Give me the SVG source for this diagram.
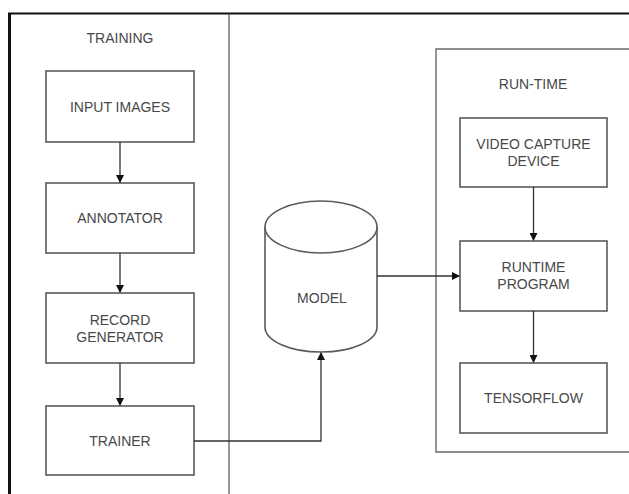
<svg xmlns="http://www.w3.org/2000/svg" width="629" height="494" viewBox="0 0 629 494">
<style>
.box{fill:#fff;stroke:#5a5a5a;stroke-width:1.6}
.lane{fill:none;stroke:#6a6a6a;stroke-width:1.4}
.t{font-family:"Liberation Sans",Arial,sans-serif;font-size:14px;fill:#484848;text-anchor:middle;dominant-baseline:central}
.c{fill:none;stroke:#333;stroke-width:1.3}
</style>
<defs>
<marker id="ah" markerWidth="8" markerHeight="8" refX="7" refY="4" orient="auto" markerUnits="userSpaceOnUse">
<path d="M0,0 L8,4 L0,8 Z" fill="#111"/>
</marker>
</defs>
<rect width="629" height="494" fill="#fff"/>
<g id="frame">
<line x1="8" y1="13.5" x2="629" y2="13.5" stroke="#111" stroke-width="2"/>
<line x1="9.5" y1="13" x2="9.5" y2="494" stroke="#111" stroke-width="3"/>
</g>
<g id="training">
<line x1="229" y1="14" x2="229" y2="494" class="lane"/>
<text class="t" x="120" y="38">TRAINING</text>
</g>
<g id="runtime">
<path d="M632,49 H436 V452 H632" class="lane"/>
<text class="t" x="533" y="84">RUN-TIME</text>
</g>
<g id="input-images">
<rect class="box" x="46" y="71" width="148" height="71"/>
<text class="t" x="120" y="106.5">INPUT IMAGES</text>
</g>
<g id="annotator">
<rect class="box" x="46" y="183" width="148" height="70"/>
<text class="t" x="120" y="218">ANNOTATOR</text>
</g>
<g id="record-generator">
<rect class="box" x="46" y="293" width="148" height="70"/>
<text class="t" x="120" y="320">RECORD</text>
<text class="t" x="120" y="337">GENERATOR</text>
</g>
<g id="trainer">
<rect class="box" x="46" y="406" width="148" height="69"/>
<text class="t" x="120" y="440.5">TRAINER</text>
</g>
<g id="model">
<path class="box" d="M265,227 V327 A56,25 0 0 0 377,327 V227 A56,26 0 0 0 265,227 Z"/>
<path class="box" fill="none" d="M265,227 A56,26 0 0 0 377,227"/>
<text class="t" x="322" y="298">MODEL</text>
</g>
<g id="video-capture">
<rect class="box" x="460" y="118" width="147" height="69"/>
<text class="t" x="533.5" y="144">VIDEO CAPTURE</text>
<text class="t" x="533.5" y="161">DEVICE</text>
</g>
<g id="runtime-program">
<rect class="box" x="460" y="241" width="147" height="70"/>
<text class="t" x="533.5" y="267">RUNTIME</text>
<text class="t" x="533.5" y="284">PROGRAM</text>
</g>
<g id="tensorflow">
<rect class="box" x="460" y="363" width="147" height="70"/>
<text class="t" x="533.5" y="398">TENSORFLOW</text>
</g>
<g id="connectors">
<line class="c" x1="120" y1="142" x2="120" y2="182" marker-end="url(#ah)"/>
<line class="c" x1="120" y1="253" x2="120" y2="292" marker-end="url(#ah)"/>
<line class="c" x1="120" y1="363" x2="120" y2="405" marker-end="url(#ah)"/>
<path class="c" d="M194,441 H321 V353" marker-end="url(#ah)"/>
<path class="c" d="M377,276 H459" marker-end="url(#ah)"/>
<line class="c" x1="533.5" y1="187" x2="533.5" y2="240" marker-end="url(#ah)"/>
<line class="c" x1="533.5" y1="311" x2="533.5" y2="362" marker-end="url(#ah)"/>
</g>
</svg>
